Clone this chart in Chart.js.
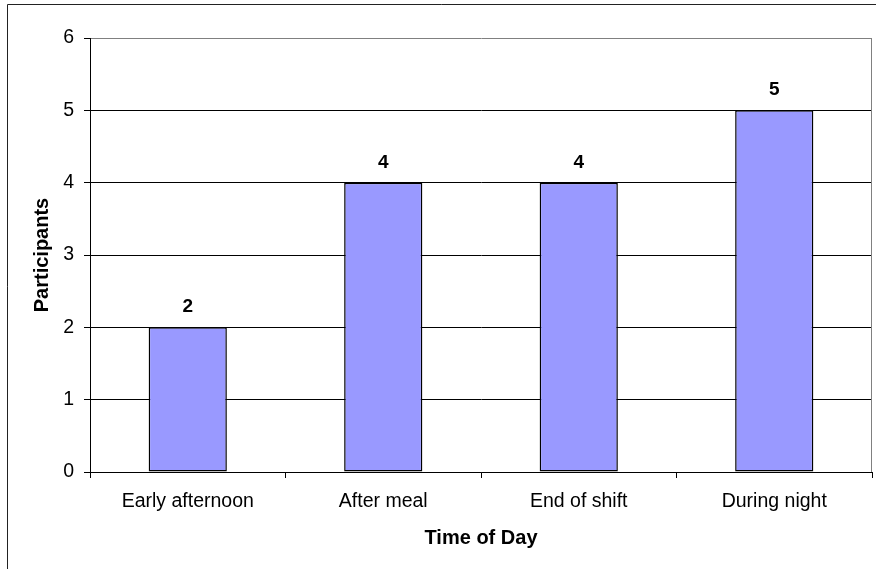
<!DOCTYPE html>
<html>
<head>
<meta charset="utf-8">
<script src="https://cdn.jsdelivr.net/npm/chart.js@4"></script>
<style>
  html, body { margin: 0; padding: 0; background: #fff; }
  #wrap { width: 876px; height: 569px; }
</style>
</head>
<body>
<div id="wrap"><canvas id="chart" width="876" height="569"></canvas></div>
<script>
const categories = ['Early afternoon', 'After meal', 'End of shift', 'During night'];
const participants = [2, 4, 4, 5];
const yTicks = [0, 1, 2, 3, 4, 5, 6];

const FONT = "'Liberation Sans', Arial, sans-serif";

// thin frame round the whole chart, plus the grey right edge of the plot area
const framePlugin = {
    id: 'frame',
    beforeDraw(chart) {
        const ctx = chart.ctx;
        ctx.save();
        ctx.strokeStyle = '#222';
        ctx.lineWidth = 1;
        ctx.beginPath();
        ctx.moveTo(7.5, chart.height);
        ctx.lineTo(7.5, 4.5);
        ctx.lineTo(chart.width, 4.5);
        ctx.stroke();
        ctx.restore();
    },
    afterDraw(chart) {
        const a = chart.chartArea;
        const ctx = chart.ctx;
        ctx.save();
        ctx.strokeStyle = '#808080';
        ctx.lineWidth = 1;
        ctx.beginPath();
        ctx.moveTo(Math.round(a.right) - 0.5, a.top);
        ctx.lineTo(Math.round(a.right) - 0.5, a.bottom);
        ctx.stroke();
        ctx.restore();
    }
};

// value written above each bar
const valueLabels = {
    id: 'valueLabels',
    afterDatasetsDraw(chart) {
        const ctx = chart.ctx;
        const meta = chart.getDatasetMeta(0);
        ctx.save();
        ctx.font = 'bold 19px ' + FONT;
        ctx.fillStyle = '#000';
        ctx.textAlign = 'center';
        ctx.textBaseline = 'alphabetic';
        meta.data.forEach((bar, i) => {
            ctx.fillText(String(participants[i]), bar.x, bar.y - 15);
        });
        ctx.restore();
    }
};

new Chart(document.getElementById('chart'), {
    type: 'bar',
    data: {
        labels: categories,
        datasets: [{
            data: participants,
            backgroundColor: '#9999ff',
            borderColor: '#000',
            borderWidth: 1.5,
            borderSkipped: false,
            categoryPercentage: 1,
            barPercentage: 0.4
        }]
    },
    options: {
        responsive: false,
        animation: false,
        layout: { padding: { left: 0, top: 38, right: 4, bottom: 0 } },
        plugins: {
            legend: { display: false },
            tooltip: { enabled: false }
        },
        scales: {
            x: {
                afterFit(scale) { scale.height = 97; },
                grid: {
                    offset: true,
                    drawOnChartArea: false,
                    drawTicks: true,
                    tickLength: 6,
                    tickColor: '#000'
                },
                border: { color: '#000', width: 1 },
                ticks: {
                    color: '#000',
                    padding: 12,
                    font: { family: FONT, size: 19.5 }
                },
                title: {
                    display: true,
                    text: 'Time of Day',
                    color: '#000',
                    padding: 19,
                    font: { family: FONT, size: 20, weight: 'bold' }
                }
            },
            y: {
                min: 0,
                max: 6,
                afterFit(scale) { scale.width = 90; },
                afterBuildTicks(scale) { scale.ticks = yTicks.map(v => ({ value: v })); },
                grid: {
                    color: ctx => ctx.tick && ctx.tick.value === 6 ? '#808080' : '#000',
                    tickColor: '#000',
                    drawTicks: true,
                    tickLength: 6,
                    lineWidth: 1
                },
                border: { color: '#000', width: 1 },
                ticks: {
                    color: '#000',
                    padding: 10,
                    font: { family: FONT, size: 19.5 }
                },
                title: {
                    display: true,
                    text: 'Participants',
                    color: '#000',
                    padding: 30,
                    font: { family: FONT, size: 20, weight: 'bold' }
                }
            }
        }
    },
    plugins: [framePlugin, valueLabels]
});
</script>
</body>
</html>
